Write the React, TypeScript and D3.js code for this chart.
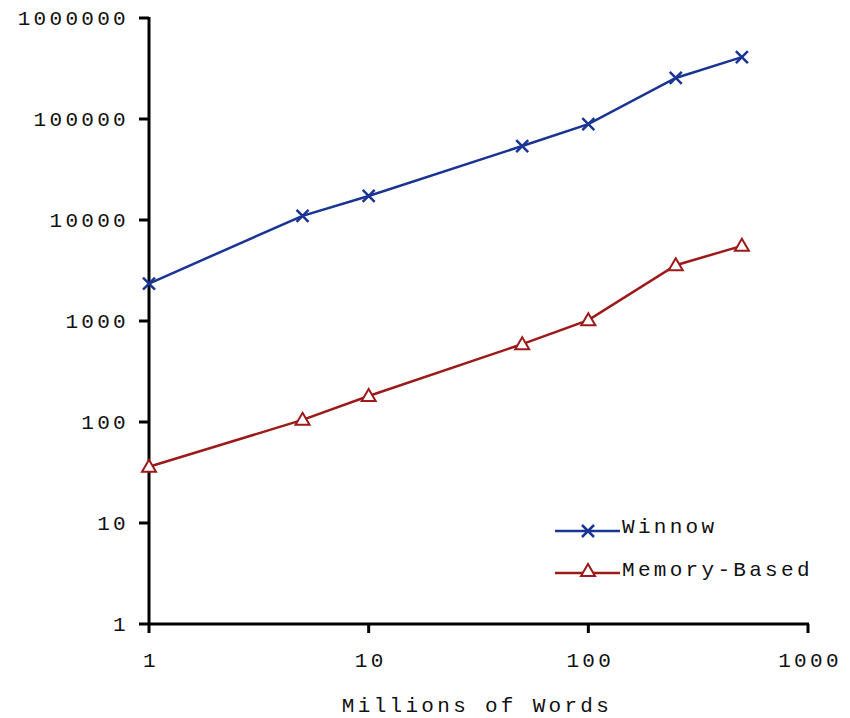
import React from 'react';
import * as d3 from 'd3';

const words = [1, 5, 10, 50, 100, 250, 500];
const winnow = [2350, 11000, 17300, 54000, 89000, 255000, 410000];
const memoryBased = [36, 105, 181, 590, 1020, 3570, 5550];
const yTicks = [1, 10, 100, 1000, 10000, 100000, 1000000];
const xTicks = [1, 10, 100, 1000];

const font = '"Liberation Mono", "Courier New", monospace';

export default function App() {
  const x = d3.scaleLog().domain([1, 1000]).range([149, 808]);
  const y = d3.scaleLog().domain([1, 1000000]).range([624, 18]);
  const line = d3.line<number>().x((_, i) => x(words[i])).y(d => y(d));

  const cross = (cx: number, cy: number, k: string) => (
    <path key={k} d={`M${cx - 6},${cy - 6}L${cx + 6},${cy + 6}M${cx - 6},${cy + 6}L${cx + 6},${cy - 6}`}
      stroke="#1a3494" strokeWidth={2.5} fill="none" />
  );
  const tri = (cx: number, cy: number, k: string) => (
    <path key={k} d={`M${cx},${cy - 7}L${cx + 7},${cy + 5}L${cx - 7},${cy + 5}Z`}
      stroke="#9c1a1a" strokeWidth={2} fill="white" />
  );

  const textStyle = { fontFamily: font, fontSize: 21, letterSpacing: 3.3, fill: '#111' };

  return (
    <svg width={850} height={718} style={{ position: 'absolute', left: 0, top: 0 }}>
      <rect width={850} height={718} fill="white" />
      {/* axes */}
      <line x1={149} x2={149} y1={17} y2={625} stroke="black" strokeWidth={3} />
      <line x1={148} x2={809} y1={624} y2={624} stroke="black" strokeWidth={3} />
      {yTicks.map(t => (
        <g key={'y' + t}>
          <line x1={139} x2={149} y1={y(t)} y2={y(t)} stroke="black" strokeWidth={3} />
          <text x={129} y={y(t) + 7} textAnchor="end" style={textStyle}>{t}</text>
        </g>
      ))}
      {xTicks.map(t => (
        <g key={'x' + t}>
          <line x1={x(t)} x2={x(t)} y1={624} y2={633} stroke="black" strokeWidth={3} />
          <text x={x(t) + 2} y={667} textAnchor="middle" style={textStyle}>{t}</text>
        </g>
      ))}
      <text x={477} y={712} textAnchor="middle" style={textStyle}>Millions of Words</text>

      <path d={line(winnow) || ''} stroke="#1a3494" strokeWidth={2.5} fill="none" />
      {winnow.map((v, i) => cross(x(words[i]), y(v), 'w' + i))}
      <path d={line(memoryBased) || ''} stroke="#9c1a1a" strokeWidth={2.5} fill="none" />
      {memoryBased.map((v, i) => tri(x(words[i]), y(v), 'm' + i))}

      {/* legend */}
      <line x1={555} x2={620} y1={531} y2={531} stroke="#1a3494" strokeWidth={2.5} />
      {cross(588, 531, 'lw')}
      <text x={622} y={533} style={textStyle}>Winnow</text>
      <line x1={555} x2={620} y1={573} y2={573} stroke="#9c1a1a" strokeWidth={2.5} />
      {tri(588, 571, 'lm')}
      <text x={622} y={576} style={textStyle}>Memory-Based</text>
    </svg>
  );
}
